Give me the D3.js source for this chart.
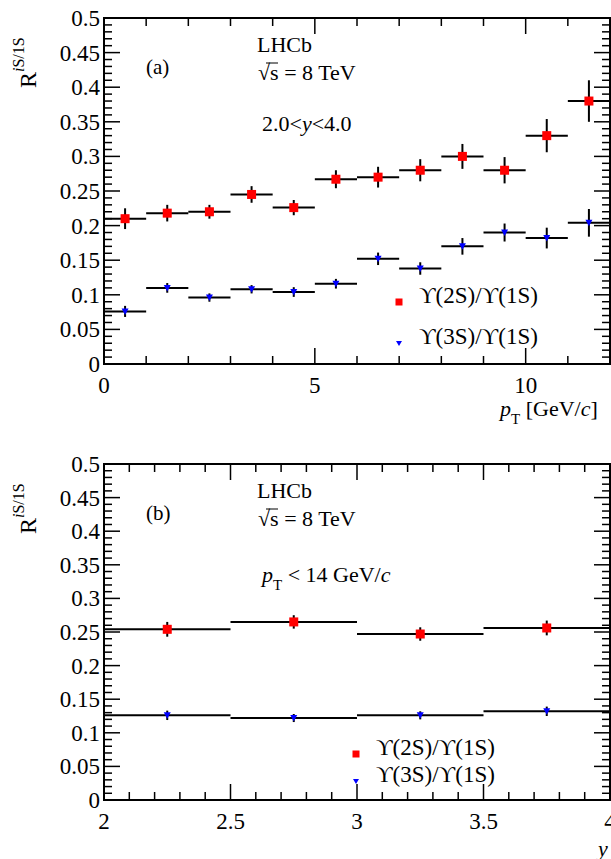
<!DOCTYPE html><html><head><meta charset="utf-8"><script src="https://cdn.jsdelivr.net/npm/d3@7"></script>
<style>body{margin:0;background:#fff}text{font-family:"Liberation Serif",serif;fill:#000}</style></head><body>
<svg id="c" width="611" height="859"></svg>
<script>
const ptEdges=[0,1,2,3,4,5,6,7,8,9,10,11,12];
const pt2S=[0.21,0.218,0.22,0.245,0.226,0.267,0.27,0.28,0.3,0.28,0.33,0.38];
const pt2Serr=[0.015,0.012,0.01,0.012,0.011,0.013,0.015,0.016,0.018,0.019,0.024,0.03];
const pt3S=[0.076,0.11,0.096,0.108,0.104,0.116,0.152,0.138,0.17,0.19,0.182,0.204];
const pt3Serr=[0.008,0.007,0.006,0.006,0.007,0.007,0.009,0.009,0.012,0.013,0.015,0.02];
const yEdges=[2,2.5,3,3.5,4];
const y2S=[0.254,0.265,0.247,0.256];
const y2Serr=[0.011,0.01,0.01,0.011];
const y3S=[0.126,0.122,0.126,0.132];
const y3Serr=[0.007,0.006,0.006,0.007];
const yTicks=[0,0.05,0.1,0.15,0.2,0.25,0.3,0.35,0.4,0.45,0.5];
const svg=d3.select("#c");
function panel(o){
  const g=svg.append("g");
  const x=d3.scaleLinear().domain(o.xd).range([104,610]);
  const y=d3.scaleLinear().domain([0,0.5]).range([o.bot,o.top]);
  g.append("rect").attr("x",104).attr("y",o.top).attr("width",506).attr("height",o.bot-o.top).attr("fill","none").attr("stroke","#000").attr("stroke-width",2);
  d3.range(0,0.5001,0.01).forEach((v,i)=>{const L=i%5==0?16:8;const yy=y(v);
    g.append("line").attr("x1",104).attr("x2",104+L).attr("y1",yy).attr("y2",yy).attr("stroke","#000").attr("stroke-width",1.5);
    g.append("line").attr("x1",610).attr("x2",610-L).attr("y1",yy).attr("y2",yy).attr("stroke","#000").attr("stroke-width",1.5);});
  yTicks.forEach(v=>g.append("text").attr("x",100).attr("y",y(v)+8).attr("text-anchor","end").attr("font-size",23).text(v));
  const n=Math.round((o.xd[1]-o.xd[0])/o.minor);
  for(let i=0;i<=n;i++){const v=o.xd[0]+i*o.minor;const L=i%o.per==0?16:8;const xx=x(v);
    g.append("line").attr("x1",xx).attr("x2",xx).attr("y1",o.bot).attr("y2",o.bot-L).attr("stroke","#000").attr("stroke-width",1.5);
    g.append("line").attr("x1",xx).attr("x2",xx).attr("y1",o.top).attr("y2",o.top+L).attr("stroke","#000").attr("stroke-width",1.5);}
  o.xl.forEach(v=>g.append("text").attr("x",x(v)).attr("y",o.bot+29).attr("text-anchor","middle").attr("font-size",23).text(v));
  [[o.s2,o.e2,"red","sq"],[o.s3,o.e3,"blue","tri"]].forEach(([s,e,c,m])=>{
    s.forEach((v,i)=>{const x0=x(o.edges[i]),x1=x(o.edges[i+1]),xm=(x0+x1)/2;
      g.append("line").attr("x1",x0).attr("x2",x1).attr("y1",y(v)).attr("y2",y(v)).attr("stroke","#000").attr("stroke-width",2);
      g.append("line").attr("x1",xm).attr("x2",xm).attr("y1",y(v-e[i])).attr("y2",y(v+e[i])).attr("stroke","#000").attr("stroke-width",2);
      if(m=="sq")g.append("rect").attr("x",xm-4.5).attr("y",y(v)-4.5).attr("width",9).attr("height",9).attr("fill",c);
      else g.append("path").attr("d",`M${xm-3.5},${y(v)-3}L${xm+3.5},${y(v)-3}L${xm},${y(v)+3.5}Z`).attr("fill",c);});});
  const yl=g.append("text").attr("transform",`translate(36,${o.top+70}) rotate(-90)`).attr("font-size",24);
  yl.append("tspan").text("R");yl.append("tspan").attr("dy",-12).attr("font-size",16).attr("font-style","italic").text("i");yl.append("tspan").attr("font-size",16).text("S/1S");
  g.append("text").attr("x",146).attr("y",o.top+56).attr("font-size",21).text(o.lab);
  g.append("text").attr("x",257).attr("y",o.top+34).attr("font-size",22).text("LHCb");
  g.append("text").attr("x",258).attr("y",o.top+62).attr("font-size",22).text("√s = 8 TeV");
  g.append("line").attr("x1",266).attr("x2",278).attr("y1",o.top+45).attr("y2",o.top+45).attr("stroke","#000").attr("stroke-width",1);
  o.extra(g);
  g.append("rect").attr("x",o.lx-3.5).attr("y",o.m1-3.5).attr("width",7).attr("height",7).attr("fill","red");
  g.append("path").attr("d",`M${o.lx-3},${o.m2-2}L${o.lx+3},${o.m2-2}L${o.lx},${o.m2+3}Z`).attr("fill","blue");
  g.append("text").attr("x",o.lx+20).attr("y",o.t1).attr("font-size",23).text("ϒ(2S)/ϒ(1S)");
  g.append("text").attr("x",o.lx+20).attr("y",o.t2).attr("font-size",23).text("ϒ(3S)/ϒ(1S)");
}
panel({top:18,bot:364,xd:[0,12],minor:1,per:5,xl:[0,5,10],edges:ptEdges,s2:pt2S,e2:pt2Serr,s3:pt3S,e3:pt3Serr,lab:"(a)",lx:399,m1:302,m2:343,t1:303,t2:344,
 extra:g=>{const t=g.append("text").attr("x",262).attr("y",131).attr("font-size",22);t.append("tspan").text("2.0<");t.append("tspan").attr("font-style","italic").text("y");t.append("tspan").text("<4.0");
  const a=g.append("text").attr("x",500).attr("y",416).attr("font-size",22);a.append("tspan").attr("font-style","italic").text("p");a.append("tspan").attr("dy",8).attr("font-size",15).text("T");a.append("tspan").attr("dy",-8).text(" [GeV/");a.append("tspan").attr("font-style","italic").text("c");a.append("tspan").text("]");}});
panel({top:464,bot:800,xd:[2,4],minor:0.1,per:5,xl:[2,2.5,3,3.5,4],edges:yEdges,s2:y2S,e2:y2Serr,s3:y3S,e3:y3Serr,lab:"(b)",lx:356,m1:754,m2:781,t1:755,t2:782,
 extra:g=>{const t=g.append("text").attr("x",262).attr("y",582).attr("font-size",22);t.append("tspan").attr("font-style","italic").text("p");t.append("tspan").attr("dy",8).attr("font-size",15).text("T");t.append("tspan").attr("dy",-8).text(" < 14 GeV/");t.append("tspan").attr("font-style","italic").text("c");
  g.append("text").attr("x",598).attr("y",856).attr("font-size",22).attr("font-style","italic").text("y");}});
</script></body></html>
